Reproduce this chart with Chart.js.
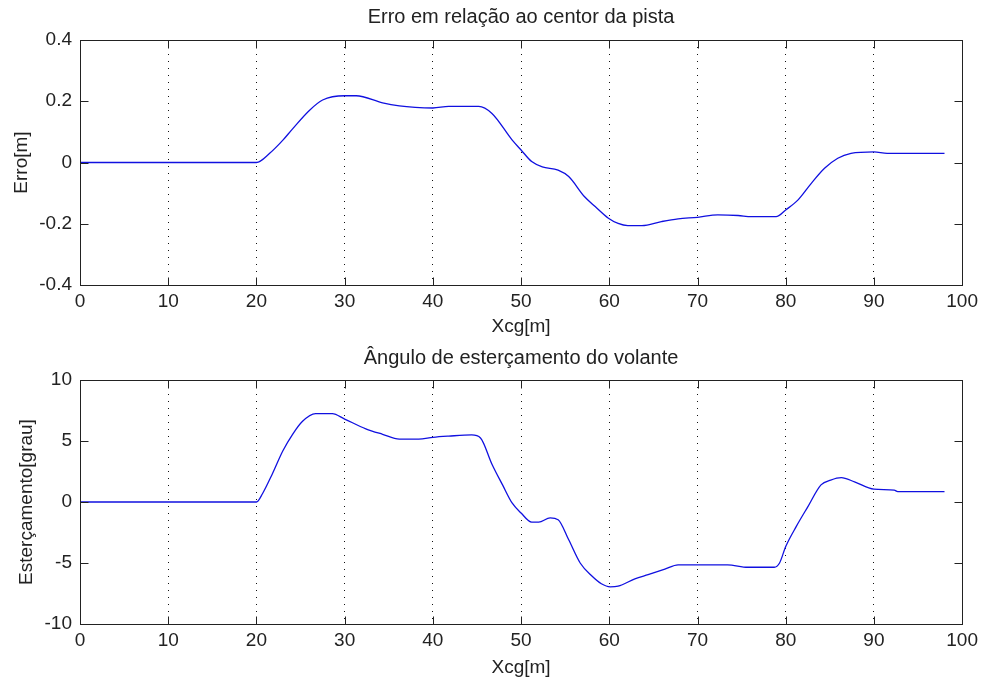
<!DOCTYPE html>
<html><head><meta charset="utf-8">
<script src="https://cdn.jsdelivr.net/npm/chart.js@4"></script>
<style>body{margin:0;background:#fff}canvas{position:absolute;left:0}</style>
</head><body>
<canvas id="c1" width="983" height="341" style="top:0"></canvas>
<canvas id="c2" width="983" height="341" style="top:341px"></canvas>
<script>
// ---- data ----
const xTickValues = [0,10,20,30,40,50,60,70,80,90,100];
const erroTicks = [-0.4,-0.2,0,0.2,0.4];
const angTicks = [-10,-5,0,5,10];

const erroX = [0,10,20,21.5,23,24.1,26,27.5,30,31.3,34.3,36.2,38,40,41.8,45.2,46.7,49,50,51.2,52.4,54.2,55.4,57.2,58.4,59.9,61,62.1,63.7,65.9,67.8,70,72.3,74.6,76.1,78.9,80,81.4,82.9,84.4,85.9,87.4,90,91.5,98];
const erroY = [0,0,0,0.03,0.073,0.11,0.17,0.204,0.218,0.218,0.195,0.185,0.18,0.178,0.183,0.183,0.16,0.073,0.041,0.003,-0.014,-0.025,-0.046,-0.112,-0.144,-0.182,-0.199,-0.206,-0.206,-0.193,-0.184,-0.179,-0.171,-0.173,-0.177,-0.177,-0.155,-0.122,-0.068,-0.019,0.014,0.03,0.035,0.03,0.03];

const angX = [0,10,20,20.7,21.8,23,24.1,25.2,26.7,28.6,30,32.4,34.3,36.2,38.4,40,41.8,44.4,45.4,46.7,47.9,49,50,51.2,52,53.3,54.2,55.4,56.7,58,59.1,60.1,61,62.9,64.4,66.3,67.8,70,73.4,75.7,78.7,79.3,80,81.2,82.5,84,85.1,86.3,87.8,90,92.3,92.7,98];
const angY = [0,0,0,0.7,2.3,4.2,5.55,6.6,7.25,7.25,6.8,6.0,5.55,5.15,5.15,5.3,5.4,5.5,5.25,3.1,1.4,-0.1,-0.9,-1.65,-1.65,-1.3,-1.45,-3.1,-5.0,-6.05,-6.7,-6.95,-6.9,-6.3,-5.95,-5.5,-5.15,-5.15,-5.15,-5.35,-5.35,-5.0,-3.65,-2.0,-0.4,1.4,1.8,2.0,1.65,1.05,0.97,0.85,0.85];

const titles = ["Erro em relação ao centor da pista", "Ângulo de esterçamento do volante"];
const yLabels = ["Erro[m]", "Esterçamento[grau]"];
const xLabel = "Xcg[m]";

const FONT = "'Liberation Sans', Arial, sans-serif";
const TS = 19;   // tick / label font size
const TTS = 20;  // title font size

const boxPlugin = {
  id: 'box',
  afterDraw(chart) {
    const {ctx, chartArea: a, scales: {x, y}} = chart;
    ctx.save();
    ctx.strokeStyle = '#222';
    ctx.lineWidth = 1;
    const L = Math.round(a.left) + 0.5, R = Math.round(a.right) + 0.5;
    const T = Math.round(a.top) + 0.5, B = Math.round(a.bottom) + 0.5;
    ctx.strokeRect(L, T, R - L, B - T);
    const tl = 8;
    ctx.beginPath();
    x.ticks.forEach(t => {
      const px = Math.round(x.getPixelForValue(t.value)) + 0.5;
      ctx.moveTo(px, T); ctx.lineTo(px, T + tl);
      ctx.moveTo(px, B); ctx.lineTo(px, B - tl);
    });
    y.ticks.forEach(t => {
      const py = Math.round(y.getPixelForValue(t.value)) + 0.5;
      ctx.moveTo(L, py); ctx.lineTo(L + tl, py);
      ctx.moveTo(R, py); ctx.lineTo(R - tl, py);
    });
    ctx.stroke();
    ctx.restore();
  }
};

function makeChart(id, xs, ys, yTicks, title, yLabel, opts) {
  const pts = xs.map((v, i) => ({x: v, y: ys[i]}));
  return new Chart(document.getElementById(id), {
    type: 'line',
    data: { datasets: [{ data: pts, borderColor: '#1010e0', borderWidth: 1.3,
      pointRadius: 0, fill: false, cubicInterpolationMode: 'monotone' }] },
    options: {
      responsive: false, animation: false,
      layout: { padding: { left: 0, right: 18, top: 0, bottom: 0 } },
      plugins: {
        legend: { display: false }, tooltip: { enabled: false },
        title: { display: true, text: title, fullSize: false, color: '#222',
          font: { family: FONT, size: TTS, weight: 'normal', lineHeight: 1.2 },
          padding: { top: opts.titleTop, bottom: opts.areaTop - opts.titleTop - TTS * 1.2 } }
      },
      scales: {
        x: {
          type: 'linear', min: 0, max: 100,
          afterBuildTicks: s => { s.ticks = xTickValues.map(v => ({value: v})); },
          afterFit: s => { s.height = opts.xAxisH; },
          grid: { display: true, drawTicks: false, lineWidth: 1,
            color: c => (c.tick && (c.tick.value === 0 || c.tick.value === 100)) ? 'rgba(0,0,0,0)' : '#111' },
          border: { display: false, dash: [1, 6] },
          ticks: { color: '#222', padding: 5, maxRotation: 0, autoSkip: false,
            font: { family: FONT, size: TS }, callback: v => String(v) },
          title: { display: true, text: xLabel, color: '#222',
            font: { family: FONT, size: TS, lineHeight: 1.2 }, padding: { top: 0, bottom: opts.xTitleBottom } }
        },
        y: {
          type: 'linear', min: yTicks[0], max: yTicks[yTicks.length - 1],
          afterBuildTicks: s => { s.ticks = yTicks.map(v => ({value: v})); },
          afterFit: s => { s.width = 80; },
          grid: { display: false, drawTicks: false },
          border: { display: false },
          ticks: { color: '#222', padding: 8, autoSkip: false,
            font: { family: FONT, size: TS }, callback: v => String(v) },
          title: { display: true, text: yLabel, color: '#222',
            font: { family: FONT, size: TS, lineHeight: 1.2 }, padding: { top: opts.yTitleTop, bottom: 0 } }
        }
      }
    },
    plugins: [boxPlugin]
  });
}

makeChart('c1', erroX, erroY, erroTicks, titles[0], yLabels[0],
  { titleTop: 5, areaTop: 40, xAxisH: 56, xTitleBottom: 3, yTitleTop: 10 });
makeChart('c2', angX, angY, angTicks, titles[1], yLabels[1],
  { titleTop: 5, areaTop: 39, xAxisH: 58, xTitleBottom: 3, yTitleTop: 15 });
</script>
</body></html>
